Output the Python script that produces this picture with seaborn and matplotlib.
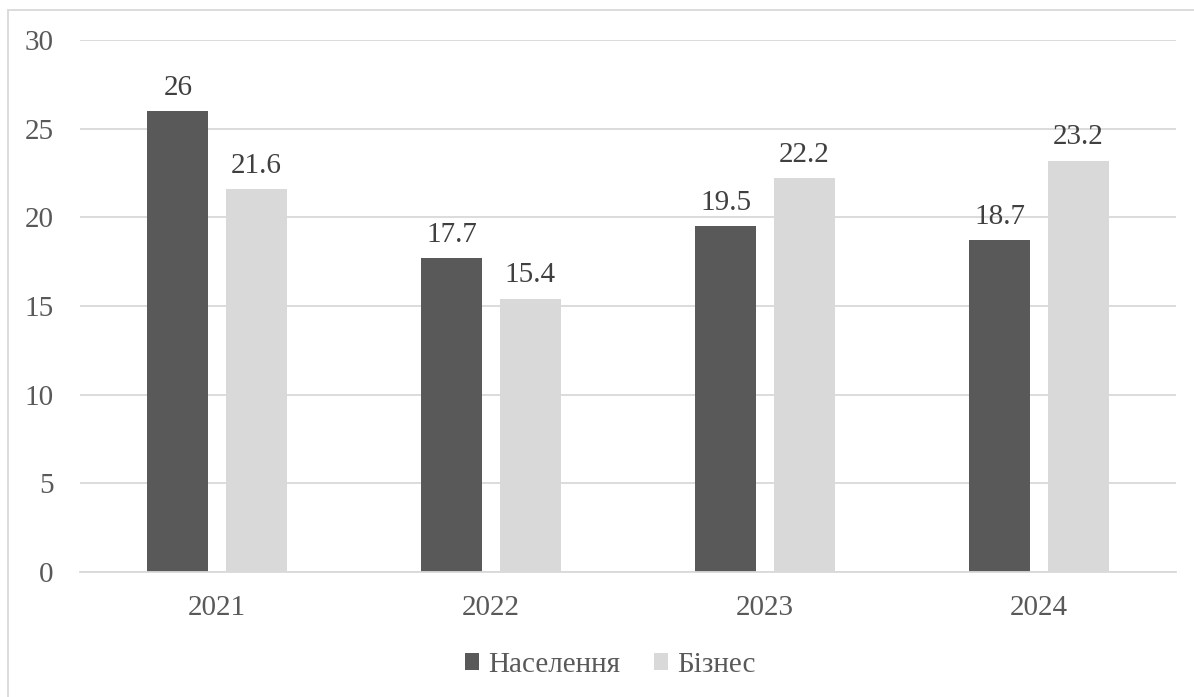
import matplotlib
matplotlib.use("Agg")
import matplotlib.pyplot as plt
from matplotlib import font_manager as fm
import seaborn as sns
import pandas as pd
from matplotlib.patches import Rectangle

years = ["2021", "2022", "2023", "2024"]
series_names = ["Населення", "Бізнес"]
naselennia = [26, 17.7, 19.5, 18.7]
biznes = [21.6, 15.4, 22.2, 23.2]
y_ticks = [0, 5, 10, 15, 20, 25, 30]

colors = ["#595959", "#d9d9d9"]

df = pd.DataFrame({
    "year": years * 2,
    "series": [series_names[0]] * len(years) + [series_names[1]] * len(years),
    "value": naselennia + biznes,
})

sns.set_theme(style="white")

# pick a Times-like serif face that is actually installed
installed = {f.name for f in fm.fontManager.ttflist}
serif_face = next((n for n in ["Liberation Serif", "Tinos", "Times New Roman",
                               "Noto Serif", "DejaVu Serif"] if n in installed),
                  "serif")
plt.rcParams["font.family"] = [serif_face, "DejaVu Serif"]

fig = plt.figure(figsize=(11.94, 6.97), dpi=100)
ax = fig.add_axes([80 / 1194, 1 - 572 / 697, 1096 / 1194, 532 / 697])

sns.barplot(data=df, x="year", y="value", hue="series", order=years,
            hue_order=series_names, palette=colors, width=0.57, gap=0.22,
            saturation=1, ax=ax, legend=True, linewidth=0)

ax.set_ylim(0, 30)
ax.set_yticks(y_ticks)
ax.set_xlim(-0.5, len(years) - 0.5)
ax.yaxis.grid(True, color="#d9d9d9", linewidth=1.3)
ax.set_axisbelow(True)
for side in ["left", "right", "top"]:
    ax.spines[side].set_visible(False)
ax.spines["bottom"].set_color("#d9d9d9")
ax.spines["bottom"].set_linewidth(1.3)
ax.tick_params(axis="both", length=0, labelsize=21, labelcolor="#595959")
ax.tick_params(axis="y", pad=19)
ax.tick_params(axis="x", pad=16.5)
ax.set_xlabel("")
ax.set_ylabel("")
for lab in ax.get_xticklabels() + ax.get_yticklabels():
    lab.set_family(serif_face)

# value labels above each bar
for container in ax.containers:
    labels = [f"{v:g}" for v in container.datavalues]
    ax.bar_label(container, labels=labels, padding=7.5, fontsize=21,
                 color="#404040", family=serif_face)

leg = ax.legend(loc="center",
                bbox_to_anchor=((610 - 80) / 1096, (1 - 665 / 697 - (1 - 572 / 697)) / (532 / 697)),
                ncol=2, frameon=False, prop={"family": serif_face, "size": 21},
                labelcolor="#595959",
                handlelength=0.5, handleheight=0.5, handletextpad=0.3, columnspacing=1.15)

# chart frame
fig.patches.append(Rectangle((8 / 1194, -0.05), 1.1, 1 - 10 / 697 + 0.05,
                             transform=fig.transFigure, fill=False,
                             edgecolor="#d9d9d9", linewidth=1.3))

fig.savefig("out.png", dpi=100)
